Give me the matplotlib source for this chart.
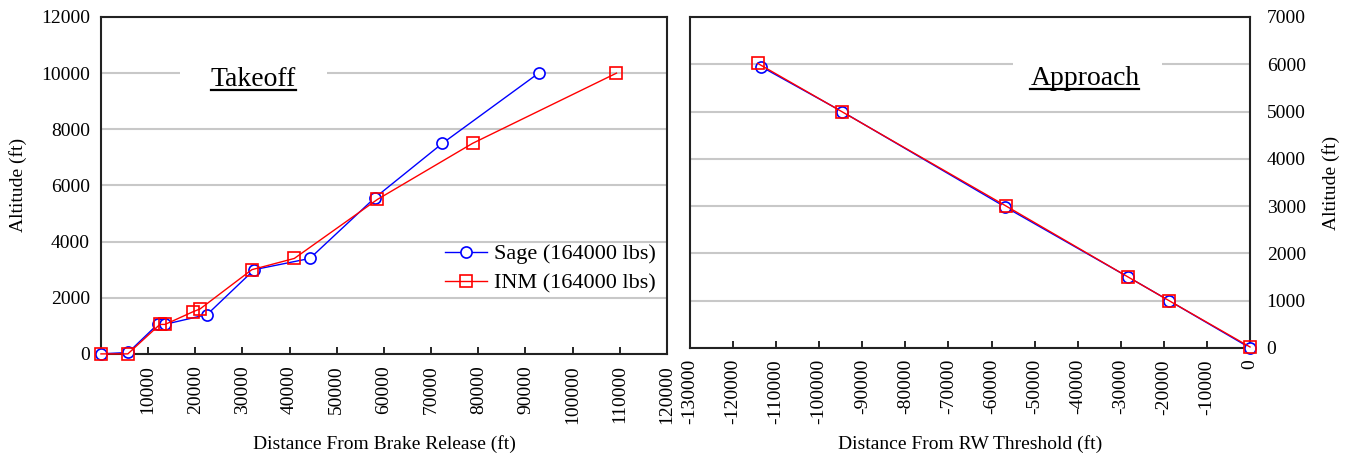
import matplotlib.pyplot as plt
from matplotlib.lines import Line2D

# ====================================
# DATA
# ====================================

takeoff_sage_x = [0, 5800, 12000, 13500, 22500, 32500, 44300, 58000, 72400, 92800]
takeoff_sage_y = [0, 50, 1050, 1050, 1400, 3000, 3400, 5550, 7500, 10000]

takeoff_inm_x = [0, 5700, 12500, 13600, 19500, 21000, 32000, 41000, 58600, 78800, 109300]
takeoff_inm_y = [0, 0, 1050, 1050, 1500, 1600, 3000, 3400, 5500, 7500, 10000]

approach_sage_x = [-113500, -94700, -56800, -28300, -18800, 0]
approach_sage_y = [5950, 5000, 2980, 1500, 1000, 0]

approach_inm_x = [-114300, -94600, -56600, -28300, -18800, 0]
approach_inm_y = [6020, 4990, 3000, 1500, 1000, 20]

takeoff_xticks = list(range(10000, 120001, 10000))
takeoff_yticks = list(range(0, 12001, 2000))
approach_xticks = list(range(-130000, 1, 10000))
approach_yticks = list(range(0, 7001, 1000))

# ====================================
# STYLE
# ====================================

plt.rcParams["font.family"] = ["Liberation Serif", "DejaVu Serif"]
plt.rcParams["axes.unicode_minus"] = False

BLUE = "#0000ff"
RED = "#ff0000"
GRID = "#c8c8c8"

fig = plt.figure(figsize=(13.46, 4.59), dpi=100)

ax1 = fig.add_axes([0.075, 0.229, 0.4205, 0.734])
ax2 = fig.add_axes([0.5126, 0.242, 0.4161, 0.721])


def style_axes(ax):
    ax.set_axisbelow(True)
    ax.grid(axis="y", color=GRID, linewidth=1.5)
    for s in ax.spines.values():
        s.set_linewidth(1.5)
        s.set_color("#222222")
    ax.tick_params(axis="x", direction="in", length=5, width=1.2,
                   labelsize=14, labelrotation=90, pad=8)
    ax.tick_params(axis="y", length=0, labelsize=14, pad=8)


def plot_pair(ax, sx, sy, ix, iy):
    ax.plot(sx, sy, color=BLUE, linewidth=1, marker="o", markersize=8,
            markerfacecolor="white", markeredgecolor=BLUE,
            markeredgewidth=1.2, label="Sage (164000 lbs)", clip_on=False,
            zorder=3)
    ax.plot(ix, iy, color=RED, linewidth=1, marker="s", markersize=8,
            markerfacecolor="none", markeredgecolor=RED,
            markeredgewidth=1.2, label="INM (164000 lbs)", clip_on=False,
            zorder=4)


def boxed_title(ax, x, y, text, box):
    ax.add_patch(plt.Rectangle((box[0], y - 0.06), box[1] - box[0], 0.12,
                               transform=ax.transAxes, facecolor="white",
                               edgecolor="none", zorder=1.5))
    t = ax.text(x, y, text, transform=ax.transAxes, fontsize=20,
                ha="center", va="center", zorder=3)
    return t


# ====================================
# TAKEOFF
# ====================================

style_axes(ax1)
plot_pair(ax1, takeoff_sage_x, takeoff_sage_y, takeoff_inm_x, takeoff_inm_y)
ax1.set_xlim(0, 120000)
ax1.set_ylim(0, 12000)
ax1.set_xticks(takeoff_xticks)
ax1.set_yticks(takeoff_yticks)
ax1.set_xlabel("Distance From Brake Release (ft)", fontsize=14, labelpad=8)
ax1.set_ylabel("Altitude (ft)", fontsize=14, labelpad=10)

ax1.legend(loc="lower right", bbox_to_anchor=(1.0, 0.145), frameon=False,
           fontsize=16, handlelength=1.9, handletextpad=0.3,
           labelspacing=0.4, borderaxespad=0.1)

t1 = boxed_title(ax1, 0.269, 0.815, "Takeoff", (0.14, 0.40))

# ====================================
# APPROACH
# ====================================

style_axes(ax2)
plot_pair(ax2, approach_sage_x, approach_sage_y, approach_inm_x, approach_inm_y)
ax2.set_xlim(-130000, 0)
ax2.set_ylim(0, 7000)
ax2.set_xticks(approach_xticks)
ax2.set_yticks(approach_yticks)
ax2.yaxis.tick_right()
ax2.yaxis.set_label_position("right")
ax2.tick_params(axis="y", length=0, labelsize=14, pad=12)
ax2.set_xlabel("Distance From RW Threshold (ft)", fontsize=14, labelpad=8)
ax2.set_ylabel("Altitude (ft)", fontsize=14, labelpad=12)

t2 = boxed_title(ax2, 0.705, 0.815, "Approach", (0.577, 0.843))

# underline the two titles
fig.canvas.draw()
inv = fig.transFigure.inverted()
for t in (t1, t2):
    bb = t.get_window_extent()
    (x0, y0), (x1, _) = inv.transform([[bb.x0, bb.y0], [bb.x1, bb.y1]])
    fig.add_artist(Line2D([x0, x1], [y0 + 0.004, y0 + 0.004],
                          transform=fig.transFigure, color="black",
                          linewidth=1.6))

plt.savefig("out.png", dpi=100)
